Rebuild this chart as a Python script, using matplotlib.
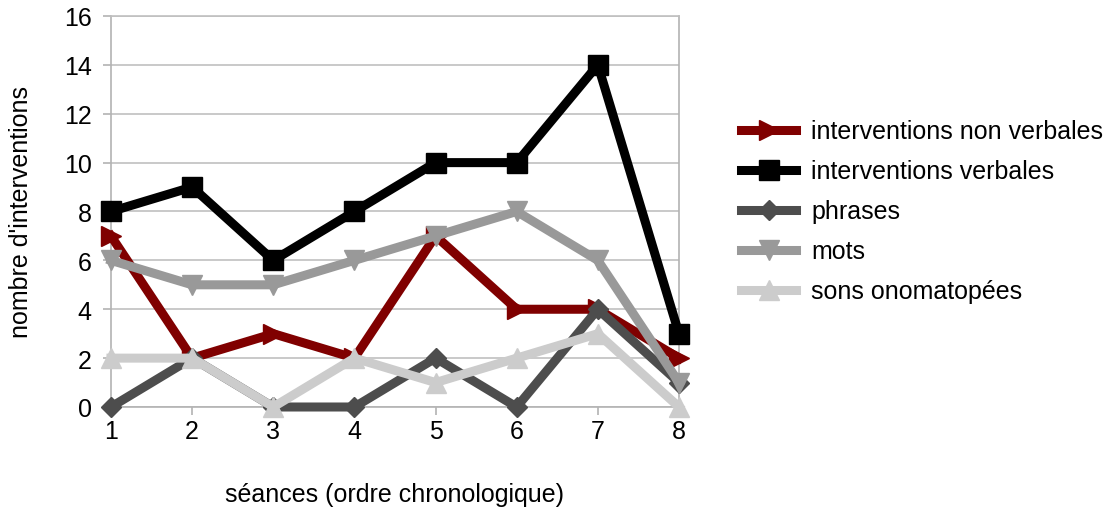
import matplotlib
matplotlib.use("Agg")
import matplotlib.pyplot as plt

plt.rcParams['font.family'] = ['Liberation Sans', 'DejaVu Sans']

seances = [1, 2, 3, 4, 5, 6, 7, 8]
non_verbales = [7, 2, 3, 2, 7, 4, 4, 2]
verbales = [8, 9, 6, 8, 10, 10, 14, 3]
phrases = [0, 2, 0, 0, 2, 0, 4, 1]
mots = [6, 5, 5, 6, 7, 8, 6, 1]
sons = [2, 2, 0, 2, 1, 2, 3, 0]

series = [
    ('interventions non verbales', non_verbales, '#800000', '>'),
    ('interventions verbales', verbales, '#000000', 's'),
    ('phrases', phrases, '#4d4d4d', 'D'),
    ('mots', mots, '#999999', 'v'),
    ('sons onomatopées', sons, '#cccccc', '^'),
]

fig = plt.figure(figsize=(11.12, 5.1), dpi=100)
ax = fig.add_axes([0.0998, 0.2, 0.5108, 0.7667])

for name, vals, col, mk in series:
    ms = 14 if mk != 'D' else 10
    ax.plot(seances, vals, color=col, marker=mk, markersize=ms, linewidth=6.5,
            label=name, clip_on=False, zorder=3)

ax.set_xlim(1, 8)
ax.set_ylim(0, 16)
ax.set_yticks(range(0, 17, 2))
ax.set_xticks(seances)
ax.yaxis.grid(True, color='#c0c0c0', linewidth=1.2)
ax.set_axisbelow(True)
for s in ax.spines.values():
    s.set_color('#b3b3b3')
    s.set_linewidth(1.2)
ax.spines['top'].set_color('#c0c0c0')
ax.tick_params(colors='#b3b3b3', labelcolor='black', labelsize=18, length=6, width=1.2)
ax.tick_params(axis='x', pad=3)
ax.tick_params(axis='y', pad=8)

ax.set_xlabel("séances (ordre chronologique)", fontsize=18, labelpad=28)
ax.set_ylabel("nombre d'interventions", fontsize=18, labelpad=22)

ax.legend(loc='center left', bbox_to_anchor=(1.07, 0.5), frameon=False,
          fontsize=18, handlelength=2.2, labelspacing=0.64, handletextpad=0.6)

fig.savefig('out.png', dpi=100)
